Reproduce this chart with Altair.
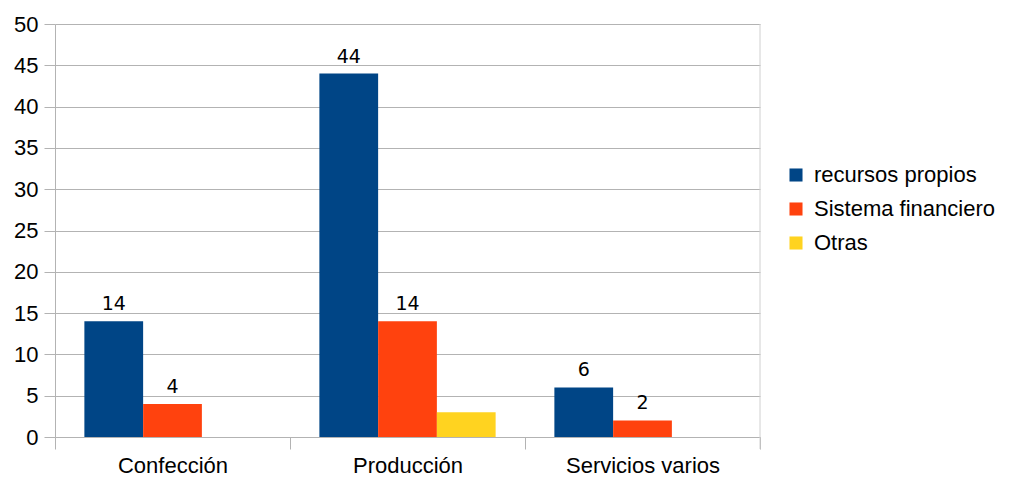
import altair as alt
import pandas as pd

categories = ["Confección", "Producción", "Servicios varios"]
series = ["recursos propios", "Sistema financiero", "Otras"]
recursos_propios = [14, 44, 6]
sistema_financiero = [4, 14, 2]
otras = [0, 3, 0]
colors = ["#004586", "#ff420e", "#ffd320"]

rows = []
for s, vals in zip(series, [recursos_propios, sistema_financiero, otras]):
    for c, v in zip(categories, vals):
        rows.append({"cat": c, "serie": s, "valor": v})
df = pd.DataFrame(rows)

FONT = "Liberation Sans"
W, H = 705, 413

x = alt.X("cat:N", sort=categories, title=None,
          scale=alt.Scale(paddingInner=0, paddingOuter=0),
          axis=alt.Axis(labelAngle=0, labelFontSize=22, labelFont=FONT, labelColor="#000000",
                        domainColor="#b3b3b3", tickColor="#b3b3b3", tickSize=12,
                        tickBand="extent", labelPadding=6, grid=False))
xo = alt.XOffset("serie:N", sort=series, scale=alt.Scale(paddingOuter=0.5, paddingInner=0))
y = alt.Y("valor:Q", title=None, scale=alt.Scale(domain=[0, 50], nice=False),
          axis=alt.Axis(values=list(range(0, 51, 5)), labelFontSize=22, labelFont=FONT,
                        labelColor="#000000", domainColor="#b3b3b3", tickColor="#b3b3b3",
                        tickSize=11, gridColor="#b3b3b3", labelPadding=6))

base = alt.Chart(df)

bars = base.mark_bar().encode(
    x=x, xOffset=xo, y=y,
    color=alt.Color("serie:N", sort=series,
                    scale=alt.Scale(domain=series, range=colors),
                    legend=alt.Legend(title=None, orient="none", legendX=730, legendY=140,
                                      labelFontSize=22, labelFont=FONT, labelColor="#000000",
                                      labelLimit=300,
                                      symbolType="square", symbolSize=170, symbolStrokeWidth=0,
                                      rowPadding=12, labelOffset=7)),
)

labels = base.transform_filter(
    (alt.datum.serie != "Otras") & (alt.datum.valor > 0)
).mark_text(baseline="bottom", dy=-7, fontSize=19, font="DejaVu Sans", color="#000000").encode(
    x=alt.X("cat:N", sort=categories), xOffset=alt.XOffset("serie:N", sort=series), y="valor:Q",
    text="valor:Q",
)

right_line = alt.Chart(pd.DataFrame({"v": [0]})).mark_rule(color="#d0d0d0", strokeWidth=1).encode(
    x=alt.value(W), y=alt.value(0), y2=alt.value(H + 12)
)

chart = alt.layer(bars, labels, right_line).properties(
    width=W, height=H,
    autosize=alt.AutoSizeParams(type="none"),
    padding={"left": 47, "top": 16, "right": 240, "bottom": 44},
).configure_view(stroke=None).configure_axis(gridWidth=1)

chart.save("out.html", embed_options={"renderer": "svg", "actions": False})
